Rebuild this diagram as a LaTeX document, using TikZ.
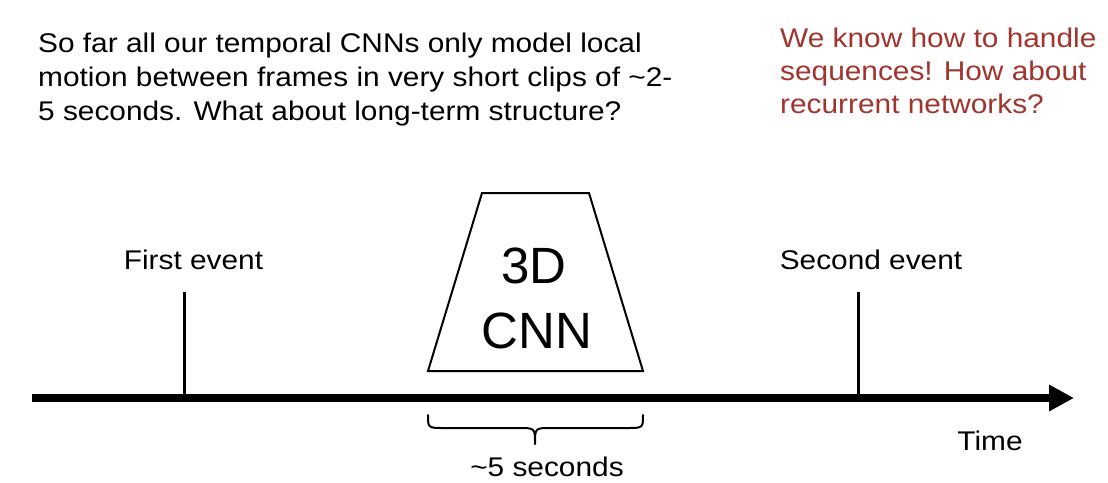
\documentclass[tikz,border=0pt]{standalone}
\usepackage{fontspec}
\setmainfont{Liberation Sans}
\newfontfamily\widesans{Liberation Sans}[FakeStretch=1.105]
\usetikzlibrary{arrows.meta}
\definecolor{darkred}{RGB}{160,52,46}
\tikzset{
  txt/.style={inner sep=0pt, font=\widesans\fontsize{27}{34}\selectfont},
  big/.style={inner sep=0pt, font=\fontsize{51}{65}\selectfont},
  tick/.style={line width=3pt},
}
\begin{document}
\begin{tikzpicture}[x=1pt,y=-1pt]
\useasboundingbox[fill=white] (0,0) rectangle (1108,482);
% top texts
\node[txt, anchor=base west, align=left] (q) at (38,120)
  {So far all our temporal CNNs only model local\\motion between frames in very short clips of \textasciitilde2-\\5 seconds. What about long-term structure?};
\node[txt, anchor=base west, align=left, text=darkred, font=\widesans\fontsize{27}{33}\selectfont] (r) at (780,113)
  {We know how to handle\\sequences! How about\\recurrent networks?};
% timeline
\coordinate (t0) at (32,398);
\coordinate (t1) at (1074,398);
\draw[line width=7.5pt, -{Triangle[length=25pt,width=25pt]}] (t0) -- (t1);
% events
\coordinate (e1top) at (184,292);
\coordinate (e1bot) at (184,398);
\coordinate (e2top) at (858,292);
\coordinate (e2bot) at (858,398);
\draw[tick] (e1top) -- (e1bot);
\draw[tick] (e2top) -- (e2bot);
\node[txt, anchor=base] (l1) at (193.5,269) {First event};
\node[txt, anchor=base] (l2) at (871,269) {Second event};
% 3D CNN trapezoid
\coordinate (a) at (428,371);
\coordinate (b) at (643,371);
\coordinate (c) at (589,193);
\coordinate (d) at (482,193);
\draw[line width=2pt, line join=miter] (a) -- (b) -- (c) -- (d) -- cycle;
\node[big, anchor=base] (n3d) at (534,283) {3D};
\node[big, anchor=base] (ncnn) at (537,348) {CNN};
% brace
\coordinate (bl) at (428,415);
\coordinate (bm) at (535,444);
\coordinate (br) at (643,415);
\draw[line width=2pt, line cap=round, line join=round]
  (bl) .. controls (428,428) .. (444,428) -- (519,428)
  .. controls (535,428) .. (bm)
  .. controls (535,428) .. (551,428) -- (627,428)
  .. controls (643,428) .. (br);
\node[txt, anchor=base] (five) at (547,476) {\textasciitilde5 seconds};
\node[txt, anchor=base] (time) at (990,450) {Time};
\end{tikzpicture}
\end{document}
